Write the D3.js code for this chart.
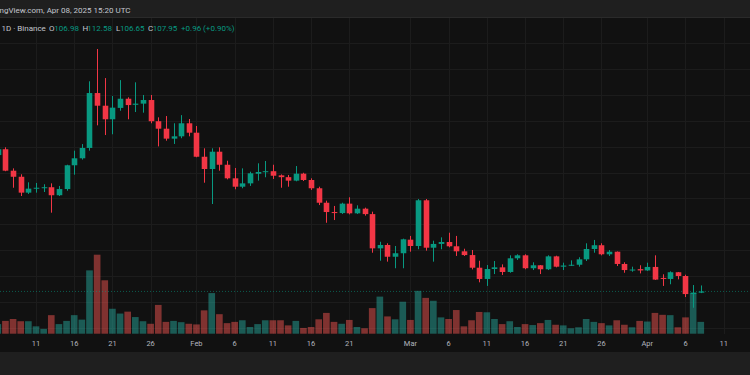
<!DOCTYPE html>
<html>
<head>
<meta charset="utf-8">
<script src="https://cdn.jsdelivr.net/npm/d3@7"></script>
<style>
  html, body { margin: 0; padding: 0; background: #111111; }
  svg { display: block; font-family: Roboto, "Liberation Sans", sans-serif; }
</style>
</head>
<body>
<svg id="chart" width="750" height="375"></svg>
<script>
// Daily candles, first one is Jan 6 2025, one per day
var firstDay = '2025-01-06';

var opens = [
  213.5, 218.0, 201.4, 196.7, 184.4, 187.5, 188.2, 188.6, 182.4, 187.2,
  205.6, 211.0, 219.0, 261.5, 251.7, 241.2, 250.0, 257.1, 252.4, 253.3,
  256.1, 239.7, 233.9, 226.2, 228.0, 238.1, 230.8, 212.2, 202.7, 216.1,
  206.0, 195.5, 189.0, 191.6, 199.0, 200.4, 201.0, 197.8, 196.4, 193.7,
  199.1, 194.2, 187.8, 176.6, 169.4, 168.6, 175.9, 168.4, 172.0, 167.8,
  141.3, 143.9, 134.8, 137.5, 148.0, 143.1, 178.5, 141.8, 144.7, 146.2,
  142.9, 139.0, 136.1, 126.3, 117.6, 125.3, 126.6, 123.0, 133.6, 135.9,
  125.9, 128.2, 125.1, 135.1, 127.1, 128.0, 128.6, 132.8, 140.8, 143.7,
  136.7, 138.7, 129.2, 124.3, 125.2, 124.2, 126.9, 118.4, 117.6, 122.8,
  119.9, 105.9, 106.98
];
var highs = [
  220.0, 219.5, 203.2, 198.6, 192.4, 191.9, 190.9, 191.6, 189.6, 206.0,
  216.9, 222.0, 270.6, 295.6, 273.1, 259.2, 271.5, 258.2, 269.8, 260.0,
  260.0, 242.7, 243.7, 238.1, 244.4, 241.4, 236.0, 218.7, 218.7, 219.5,
  209.1, 203.5, 203.2, 200.6, 207.1, 208.9, 206.0, 198.5, 198.1, 205.0,
  199.8, 195.5, 189.0, 178.2, 174.1, 176.6, 180.8, 174.6, 172.8, 169.7,
  146.4, 145.2, 143.1, 148.8, 150.9, 179.5, 179.5, 147.2, 149.8, 153.4,
  150.9, 141.0, 140.0, 131.7, 128.4, 131.5, 128.9, 135.9, 136.7, 136.7,
  130.5, 128.4, 135.9, 135.6, 130.2, 132.0, 134.4, 145.2, 147.8, 145.2,
  140.0, 138.9, 130.5, 127.1, 128.2, 130.2, 135.9, 121.2, 123.5, 123.0,
  120.9, 112.9, 112.58
];
var lows = [
  210.0, 201.0, 188.2, 181.8, 183.4, 184.4, 184.9, 168.9, 181.8, 185.9,
  198.3, 210.0, 216.9, 236.5, 229.0, 229.6, 247.8, 241.2, 246.8, 246.3,
  238.1, 220.2, 224.6, 222.1, 226.5, 228.0, 211.8, 192.1, 175.6, 201.4,
  194.7, 187.0, 187.8, 189.6, 193.7, 196.3, 195.0, 188.2, 189.0, 193.2,
  193.4, 186.5, 174.8, 161.1, 163.2, 167.9, 167.6, 167.9, 166.6, 137.9,
  131.7, 131.0, 125.9, 125.9, 138.7, 140.6, 139.5, 131.0, 140.6, 142.1,
  135.4, 135.4, 125.0, 115.0, 112.2, 121.4, 120.7, 122.4, 132.3, 125.1,
  124.5, 121.4, 124.5, 126.6, 124.5, 127.6, 127.1, 131.5, 137.9, 135.9,
  135.4, 127.6, 122.4, 123.2, 121.9, 123.8, 116.8, 112.2, 113.5, 117.3,
  103.6, 95.3, 106.65
];
var closes = [
  218.0, 201.4, 196.7, 184.4, 187.5, 188.2, 188.6, 182.4, 187.2, 205.6,
  211.0, 219.0, 261.5, 251.7, 241.2, 250.2, 257.1, 252.2, 253.3, 256.1,
  239.7, 233.9, 226.2, 228.0, 238.1, 230.8, 212.2, 202.7, 216.1, 206.0,
  195.5, 189.0, 191.6, 199.4, 200.4, 201.0, 197.5, 196.4, 193.7, 199.1,
  194.2, 187.8, 176.6, 169.4, 168.6, 175.9, 168.4, 172.0, 167.8, 141.3,
  143.9, 134.8, 137.5, 148.3, 143.1, 178.5, 141.8, 144.7, 146.2, 142.9,
  139.0, 136.1, 126.3, 117.6, 125.3, 126.6, 123.0, 133.6, 135.9, 125.9,
  128.2, 125.1, 135.1, 127.1, 128.0, 128.6, 132.8, 140.8, 143.7, 136.7,
  138.7, 129.2, 124.5, 124.9, 124.2, 126.9, 117.1, 117.6, 122.8, 119.9,
  105.9, 106.98, 107.95
];
// volume, millions
var volumes = [
  3.0, 4.0, 4.6, 3.9, 3.9, 2.3, 1.5, 5.8, 3.0, 4.0,
  5.8, 4.4, 19.8, 24.7, 16.7, 7.8, 6.3, 6.9, 5.2, 3.9,
  3.1, 9.0, 3.7, 4.0, 3.6, 3.1, 2.9, 7.3, 12.7, 6.1,
  3.3, 3.7, 4.2, 2.1, 3.0, 4.2, 4.2, 4.2, 2.6, 4.0,
  1.8, 2.1, 4.5, 6.5, 3.7, 3.1, 4.3, 2.1, 1.7, 8.0,
  11.6, 5.4, 4.5, 10.0, 4.3, 13.4, 11.2, 10.3, 5.1, 4.6,
  7.4, 2.3, 4.2, 6.8, 6.7, 4.6, 3.0, 3.9, 2.1, 3.0,
  2.7, 3.3, 4.3, 2.8, 2.6, 1.7, 2.0, 4.6, 3.7, 3.3,
  2.6, 4.2, 2.8, 2.0, 4.0, 3.8, 6.5, 5.9, 5.8, 2.0,
  5.1, 12.8, 3.7
];

var tickDates = ['2025-01-11', '2025-01-16', '2025-01-21', '2025-01-26', '2025-02-01', '2025-02-06',
  '2025-02-11', '2025-02-16', '2025-02-21', '2025-03-01', '2025-03-06', '2025-03-11', '2025-03-16',
  '2025-03-21', '2025-03-26', '2025-04-01', '2025-04-06', '2025-04-11'];
var tickLabels = ['11', '16', '21', '26', 'Feb', '6', '11', '16', '21', 'Mar', '6', '11', '16', '21', '26', 'Apr', '6', '11'];
var priceGrid = [80, 100, 120, 140, 160, 180, 200, 220, 240, 260, 280, 300];
var lastPrice = 107.95;

var W = 750, H = 375;
var UP = '#089981', DOWN = '#f23645';
var UP_VOL = 'rgba(38,166,154,0.5)', DOWN_VOL = 'rgba(239,83,80,0.5)';

var candles = opens.map(function (o, i) {
  return {
    date: d3.utcDay.offset(new Date(firstDay), i),
    open: o, high: highs[i], low: lows[i], close: closes[i], volume: volumes[i]
  };
});

var svg = d3.select('#chart');

// scales
var x = d3.scaleUtc()
  .domain([new Date('2025-01-11'), new Date('2025-04-11')])
  .range([36, 723.7]);
var y = d3.scaleLinear().domain([100, 300]).range([301.7, 43.3]);
var v = d3.scaleLinear().domain([0, d3.max(volumes)]).range([333.7, 254.7]);

var step = x(new Date('2025-01-12')) - x(new Date('2025-01-11'));
var bodyW = 5.6;
var volW = step - 1;

// backgrounds
svg.append('rect').attr('width', W).attr('height', H).attr('fill', '#111111');
svg.append('rect').attr('x', 0).attr('y', 352).attr('width', W).attr('height', H - 352).attr('fill', '#1f1f1f');

// grid
var grid = svg.append('g').attr('stroke', '#1c1c1c').attr('stroke-width', 1);
grid.selectAll('.hg')
  .data(priceGrid)
  .enter().append('line')
  .attr('x1', 0).attr('x2', W)
  .attr('y1', function (d) { return Math.round(y(d)) + 0.5; })
  .attr('y2', function (d) { return Math.round(y(d)) + 0.5; });
grid.selectAll('.vg')
  .data(tickDates)
  .enter().append('line')
  .attr('y1', 18).attr('y2', 334)
  .attr('x1', function (d) { return Math.round(x(new Date(d))) + 0.5; })
  .attr('x2', function (d) { return Math.round(x(new Date(d))) + 0.5; });

// volume bars (drawn under the candles)
svg.append('g').selectAll('rect')
  .data(candles)
  .enter().append('rect')
  .attr('x', function (d) { return x(d.date) - volW / 2; })
  .attr('y', function (d) { return v(d.volume); })
  .attr('width', volW)
  .attr('height', function (d) { return v(0) - v(d.volume); })
  .attr('fill', function (d) { return d.close >= d.open ? UP_VOL : DOWN_VOL; });

// last price line
svg.append('line')
  .attr('x1', 0).attr('x2', W)
  .attr('y1', y(lastPrice)).attr('y2', y(lastPrice))
  .attr('stroke', UP).attr('stroke-opacity', 0.55)
  .attr('stroke-width', 1)
  .attr('stroke-dasharray', '1,2');

// candles
var candle = svg.append('g').selectAll('g')
  .data(candles)
  .enter().append('g');

candle.append('line')
  .attr('x1', function (d) { return Math.round(x(d.date)) + 0.5; })
  .attr('x2', function (d) { return Math.round(x(d.date)) + 0.5; })
  .attr('y1', function (d) { return y(d.high); })
  .attr('y2', function (d) { return y(d.low); })
  .attr('stroke', function (d) { return d.close >= d.open ? UP : DOWN; })
  .attr('stroke-width', 1);

candle.append('rect')
  .attr('x', function (d) { return Math.round(x(d.date)) + 0.5 - bodyW / 2; })
  .attr('y', function (d) { return y(Math.max(d.open, d.close)); })
  .attr('width', bodyW)
  .attr('height', function (d) { return Math.max(1, Math.abs(y(d.open) - y(d.close))); })
  .attr('fill', function (d) { return d.close >= d.open ? UP : DOWN; });

// x axis labels
svg.append('g').selectAll('text')
  .data(tickDates)
  .enter().append('text')
  .attr('x', function (d) { return x(new Date(d)); })
  .attr('y', 345.5)
  .attr('text-anchor', 'middle')
  .attr('font-size', 7.5)
  .attr('fill', '#b2b5be')
  .text(function (d, i) { return tickLabels[i]; });

// header band
svg.append('rect').attr('x', 0).attr('y', 0).attr('width', W).attr('height', 17).attr('fill', '#1f1f1f');
svg.append('line').attr('x1', 0).attr('x2', W).attr('y1', 17.5).attr('y2', 17.5).attr('stroke', '#2a2a2a');

svg.append('text')
  .attr('x', -0.5).attr('y', 13)
  .attr('font-size', 8)
  .attr('fill', '#c3c6ce')
  .text('ngView.com, Apr 08, 2025 15:20 UTC');

// legend line: symbol info + OHLC of the last candle
var last = candles[candles.length - 1];
var legend = [
  { x: 1.5, t: '1D · Binance', c: '#c3c6ce' },
  { x: 49, t: 'O', c: '#c3c6ce' }, { x: 54.3, t: d3.format('.2f')(last.open), c: UP },
  { x: 82.5, t: 'H', c: '#c3c6ce' }, { x: 87.3, t: d3.format('.2f')(last.high), c: UP },
  { x: 116, t: 'L', c: '#c3c6ce' }, { x: 120, t: d3.format('.2f')(last.low), c: UP },
  { x: 148, t: 'C', c: '#c3c6ce' }, { x: 152.7, t: d3.format('.2f')(last.close), c: UP },
  { x: 181, t: '+0.96 (+0.90%)', c: UP }
];
svg.append('g').selectAll('text')
  .data(legend)
  .enter().append('text')
  .attr('x', function (d) { return d.x; })
  .attr('y', 30.5)
  .attr('font-size', 8)
  .attr('fill', function (d) { return d.c; })
  .text(function (d) { return d.t; });
</script>
</body>
</html>
